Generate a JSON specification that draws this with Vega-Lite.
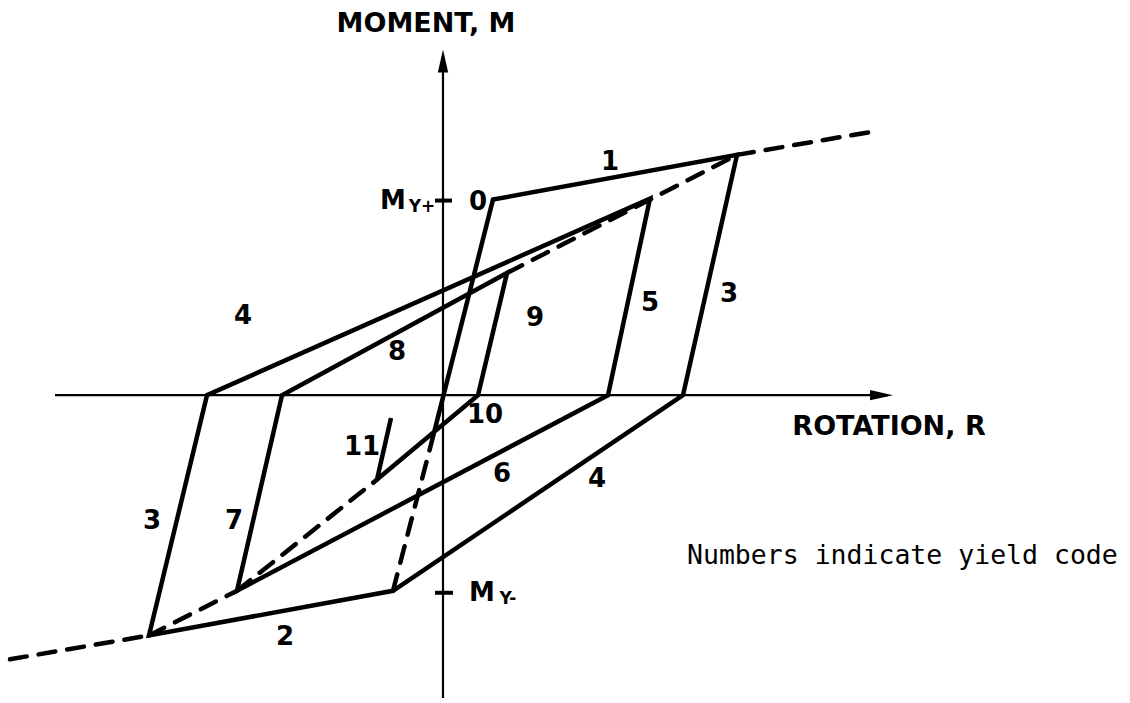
{
  "$schema": "https://vega.github.io/schema/vega-lite/v6.json",
  "description": "Moment-rotation hysteresis rule: bilinear skeleton with numbered yield-code branches.",
  "width": 1130,
  "height": 703,
  "autosize": {"type": "fit", "contains": "padding"},
  "padding": 0,
  "background": "white",
  "config": {"view": {"stroke": null}},
  "datasets": {
    "axes": [
      {"seg": "h", "o": 0, "R": -388, "M": 0},
      {"seg": "h", "o": 1, "R": 445, "M": 0},
      {"seg": "v", "o": 0, "R": 0, "M": -305},
      {"seg": "v", "o": 1, "R": 0, "M": 340}
    ],
    "loop": [
      {"o": 0, "R": -9, "M": -38},
      {"o": 1, "R": 50, "M": 197},
      {"o": 2, "R": 294, "M": 242},
      {"o": 3, "R": 240, "M": 0},
      {"o": 4, "R": -50, "M": -197},
      {"o": 5, "R": -294, "M": -242},
      {"o": 6, "R": -236, "M": 0},
      {"o": 7, "R": 207, "M": 198},
      {"o": 8, "R": 165, "M": 0},
      {"o": 9, "R": -206, "M": -197},
      {"o": 10, "R": -161, "M": 0},
      {"o": 11, "R": 64, "M": 123},
      {"o": 12, "R": 35, "M": 0},
      {"o": 13, "R": -66, "M": -85},
      {"o": 14, "R": -52, "M": -23}
    ],
    "guides": [
      {"seg": "elastic", "o": 0, "R": -50, "M": -197},
      {"seg": "elastic", "o": 1, "R": -9, "M": -38},
      {"seg": "skelNeg", "o": 0, "R": -433, "M": -266},
      {"seg": "skelNeg", "o": 1, "R": -294, "M": -242},
      {"seg": "aimC", "o": 0, "R": -294, "M": -242},
      {"seg": "aimC", "o": 1, "R": -206, "M": -197},
      {"seg": "aimE", "o": 0, "R": -206, "M": -197},
      {"seg": "aimE", "o": 1, "R": -66, "M": -85},
      {"seg": "aimA", "o": 0, "R": 64, "M": 123},
      {"seg": "aimA", "o": 1, "R": 294, "M": 242},
      {"seg": "skelPos", "o": 0, "R": 294, "M": 242},
      {"seg": "skelPos", "o": 1, "R": 433, "M": 266}
    ],
    "ticks": [
      {"seg": "myPos", "R": -8, "M": 196},
      {"seg": "myPos", "R": 9, "M": 196},
      {"seg": "myNeg", "R": -8, "M": -199},
      {"seg": "myNeg", "R": 10, "M": -199}
    ],
    "heads": [
      {"dir": "right", "R": 438.5, "M": 0},
      {"dir": "up", "R": 0, "M": 336.5}
    ],
    "titles": [
      {"text": "MOMENT, M", "R": -17, "M": 374},
      {"text": "ROTATION, R", "R": 446, "M": -32}
    ],
    "codes": [
      {"text": "0", "R": 35, "M": 195},
      {"text": "1", "R": 167, "M": 235},
      {"text": "2", "R": -158, "M": -244},
      {"text": "3", "R": 286, "M": 102},
      {"text": "3", "R": -291, "M": -127},
      {"text": "4", "R": -200, "M": 80},
      {"text": "4", "R": 154, "M": -84},
      {"text": "5", "R": 207, "M": 93},
      {"text": "6", "R": 59, "M": -79},
      {"text": "7", "R": -209, "M": -127},
      {"text": "8", "R": -46, "M": 43},
      {"text": "9", "R": 92, "M": 78},
      {"text": "10", "R": 42, "M": -20},
      {"text": "11", "R": -81, "M": -52}
    ],
    "yieldM": [
      {"text": "M", "R": -50, "M": 196},
      {"text": "M", "R": 39, "M": -199}
    ],
    "yieldSub": [
      {"text": "Y+", "R": -21, "M": 190},
      {"text": "Y-", "R": 65, "M": -205}
    ],
    "note": [
      {"text": "Numbers indicate yield code", "R": 244, "M": -162}
    ]
  },
  "encoding": {
    "x": {"field": "R", "type": "quantitative", "axis": null,
          "scale": {"domain": [-443, 687], "nice": false, "zero": false}},
    "y": {"field": "M", "type": "quantitative", "axis": null,
          "scale": {"domain": [-305, 398], "nice": false, "zero": false}}
  },
  "layer": [
    {
      "data": {"name": "axes"},
      "mark": {"type": "line", "color": "black", "strokeWidth": 2.2},
      "encoding": {"detail": {"field": "seg"}, "order": {"field": "o"}}
    },
    {
      "data": {"name": "heads"},
      "mark": {"type": "point", "filled": true, "color": "black", "opacity": 1, "size": 529},
      "encoding": {
        "shape": {"field": "dir", "type": "nominal", "legend": null,
                  "scale": {"domain": ["right", "up"],
                            "range": ["M-1,-0.45L1,0L-1,0.45Z", "M-0.45,1L0,-1L0.45,1Z"]}}
      }
    },
    {
      "data": {"name": "ticks"},
      "mark": {"type": "line", "color": "black", "strokeWidth": 4},
      "encoding": {"detail": {"field": "seg"}}
    },
    {
      "data": {"name": "guides"},
      "mark": {"type": "line", "color": "black", "strokeWidth": 4.5,
               "strokeDash": [17, 12], "strokeCap": "round"},
      "encoding": {"detail": {"field": "seg"}, "order": {"field": "o"}}
    },
    {
      "data": {"name": "loop"},
      "mark": {"type": "line", "color": "black", "strokeWidth": 4.5, "strokeJoin": "miter"},
      "encoding": {"order": {"field": "o"}}
    },
    {
      "data": {"name": "titles"},
      "mark": {"type": "text", "font": "DejaVu Sans", "fontWeight": "bold", "fontSize": 27,
               "align": "center", "baseline": "middle", "color": "black"},
      "encoding": {"text": {"field": "text"}}
    },
    {
      "data": {"name": "codes"},
      "mark": {"type": "text", "font": "DejaVu Sans", "fontWeight": "bold", "fontSize": 26,
               "align": "center", "baseline": "middle", "color": "black"},
      "encoding": {"text": {"field": "text"}}
    },
    {
      "data": {"name": "yieldM"},
      "mark": {"type": "text", "font": "DejaVu Sans", "fontWeight": "bold", "fontSize": 26,
               "align": "center", "baseline": "middle", "color": "black"},
      "encoding": {"text": {"field": "text"}}
    },
    {
      "data": {"name": "yieldSub"},
      "mark": {"type": "text", "font": "DejaVu Sans", "fontWeight": "bold", "fontSize": 17,
               "align": "center", "baseline": "middle", "color": "black"},
      "encoding": {"text": {"field": "text"}}
    },
    {
      "data": {"name": "note"},
      "mark": {"type": "text", "font": "DejaVu Sans Mono", "fontSize": 26.5,
               "align": "left", "baseline": "middle", "color": "black"},
      "encoding": {"text": {"field": "text"}}
    }
  ]
}
